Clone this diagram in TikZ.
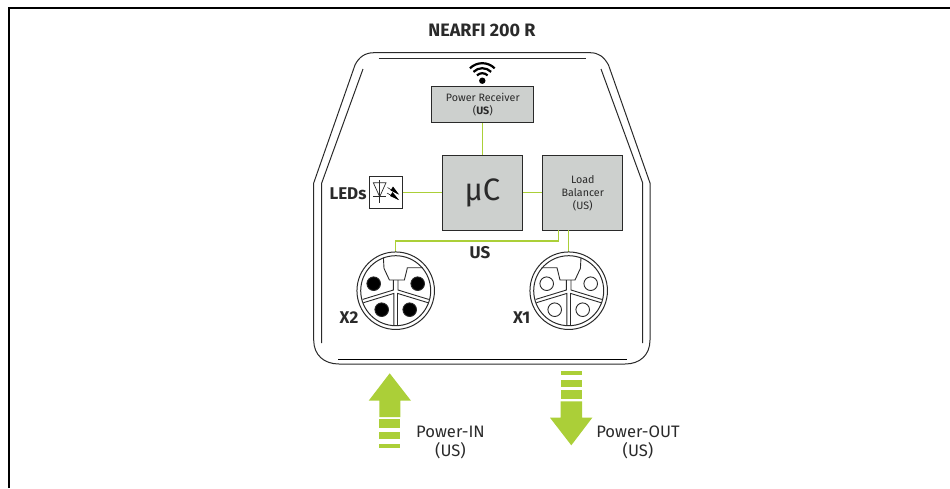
\documentclass[tikz,border=0pt]{standalone}
\usepackage{fontspec}
\setmainfont{Fira Sans}
\definecolor{usgreen}{HTML}{ABCF38}
\definecolor{boxgray}{HTML}{CDD0CE}
\definecolor{inkgray}{HTML}{2A2A2A}
\tikzset{
  unitbox/.style={draw=inkgray,fill=boxgray,line width=1pt,inner sep=0pt,align=center,anchor=north west,font=\fontsize{10.7}{13.3}\selectfont,text=inkgray},
  wire/.style={draw=usgreen,line width=1.3pt},
  shell/.style={draw=inkgray,line width=1pt},
  blab/.style={font=\bfseries\fontsize{17}{19}\selectfont,inner sep=0pt,text=inkgray},
  powerlab/.style={font=\fontsize{16.6}{19}\selectfont,align=center,inner sep=0pt,text=inkgray},
  pinline/.style={draw=inkgray,line width=0.9pt},
  bar/.style={fill=usgreen,draw=none},
  portring/.style={circle,draw=inkgray,line width=1pt,minimum size=77.5,inner sep=0pt}
}
% round connector, #1 centre, #2 pin colour, #3 key side
\newcommand{\portface}[3]{%
  \begin{scope}[shift={(#1)}]
    \draw[pinline,line width=1pt] (0,0) circle (35);
    \begin{scope}[xscale=#3]
      \draw[pinline] (-12.3,-33) -- (-11.7,-22.3) -- (-6.3,-10.7) -- (8.7,-10.7) -- (11.7,-23) -- (27,-23);
    \end{scope}
    \draw[pinline] (-2.3,-10.7) -- (-2.3,-0.7) -- (-33,8.7);
    \draw[pinline] (2.3,-10.7) -- (2.3,-0.7) -- (33,8.7);
    \draw[pinline] (-32.3,12) -- (-1.8,2.7) -- (-1.8,35);
    \draw[pinline] (32.3,12) -- (1.8,2.7) -- (1.8,35);
    \foreach \px/\py in {-22/-7,22/-7,-14/19,14/19}
      \draw[pinline,fill=#2] (\px,\py) circle (6.8);
  \end{scope}}
\begin{document}
\begin{tikzpicture}[x=1pt,y=-1pt]
\useasboundingbox (0,0) rectangle (950,488);
\draw[line width=1.6pt] (9,488) -- (9,8) -- (950,8);
\node[blab,font=\bfseries\fontsize{18}{20}\selectfont] (title) at (482,30) {NEARFI 200 R};

% housing
\draw[shell] (313.7,183) -- (355,65) .. controls (359,57) and (365,52.7) .. (374,52.7)
  -- (590,52.7) .. controls (599,52.7) and (604,57) .. (608.5,65) -- (650,183)
  -- (650,340) .. controls (650,355) and (640,364) .. (625,364) -- (339,364)
  .. controls (324,364) and (313.7,355) .. (313.7,340) -- cycle;
\draw[shell] (363,69) -- (321.7,183) -- (321.7,343);
\draw[shell] (601,69) -- (642.7,183) -- (642.7,343);
\draw[shell] (378.7,58.7) -- (585.7,58.7);
\draw[shell,draw=black] (338,359.3) -- (626.7,359.3);

% wifi symbol
\fill[black] (482.3,80.7) circle (3.2);
\foreach \r in {7.5,12.5,17.5}
  \draw[black,line width=2.2pt] (482.3,80.7) ++(225:\r) arc[start angle=225,end angle=315,radius=\r];

% units
\node[unitbox,minimum width=102,minimum height=36] (receiver) at (431.3,86) {Power Receiver\\(\textbf{US})};
\node[unitbox,minimum width=80.3,minimum height=75.3,font=\fontsize{31}{33}\selectfont] (mcu) at (441.7,155) {\char"00B5 C};
\node[unitbox,minimum width=80,minimum height=75.3] (balancer) at (542.3,155) {Load\\Balancer\\(US)};
\node[draw=inkgray,fill=white,line width=1pt,minimum size=32.4,inner sep=0pt] (leds) at (385.8,192.5) {};
\node[blab,anchor=east] (ledlab) at (366.7,193.5) {LEDs};

% diode
\draw[inkgray,line width=0.7pt] (373.3,182.7) -- (386,182.7) -- (379.7,196.7) -- cycle;
\draw[inkgray,line width=0.7pt] (373.3,196.7) -- (386,196.7);
\draw[inkgray,line width=0.7pt] (379.7,180) -- (379.7,203);
\draw[black,line width=0.5pt] (387.5,187.5) -- (398,194);
\draw[black,line width=0.5pt] (387,193) -- (398,199.5);
\fill[black] (390.5,190.5) -- (393,186.5) -- (399,194.5) -- cycle;
\fill[black] (390,196) -- (392.5,192) -- (399,200) -- cycle;

% wires
\coordinate (x2top) at (395.7,252);
\coordinate (x1top) at (568.3,252);
\draw[wire] (receiver.south -| mcu.north) -- (mcu.north);
\draw[wire] (leds.east) -- (leds.east -| mcu.west);
\draw[wire] (mcu.east |- leds.east) -- (balancer.west |- leds.east);
\draw[wire] (558.3,230.3) -- (558.3,241) -- (395.7,241) -- (x2top);
\draw[wire] (568.3,230.3) -- (x1top);
\node[blab] (uslab) at (480,252.7) {US};

% connectors
\portface{395.7,290.7}{black}{1}
\portface{568.7,290.7}{white}{-1}
\node[portring] (x2) at (395.7,290.7) {};
\node[portring] (x1) at (568.7,290.7) {};
\node[blab] (x2lab) at (349,318) {X2};
\node[blab] (x1lab) at (521.7,318) {X1};

% power arrows
\fill[usgreen] (389.7,373.3) -- (411,400.7) -- (400.3,400.7) -- (400.3,417) -- (379.3,417) -- (379.3,400.7) -- (368.7,400.7) -- cycle;
\fill[usgreen] (571.3,445.3) -- (592.3,417.7) -- (582,417.7) -- (582,401.3) -- (560.7,401.3) -- (560.7,417.7) -- (550,417.7) -- cycle;
\foreach \ya/\yb in {419/428,432/439,444/448}
  \fill[bar] (379.3,\ya) rectangle (400.3,\yb);
\foreach \ya/\yb in {390/399.3,380/387,371/375}
  \fill[bar] (560.7,\ya) rectangle (582,\yb);
\node[powerlab] (powerin) at (450.5,442) {Power-IN\\(US)};
\node[powerlab] (powerout) at (638,442) {Power-OUT\\(US)};
\end{tikzpicture}
\end{document}
